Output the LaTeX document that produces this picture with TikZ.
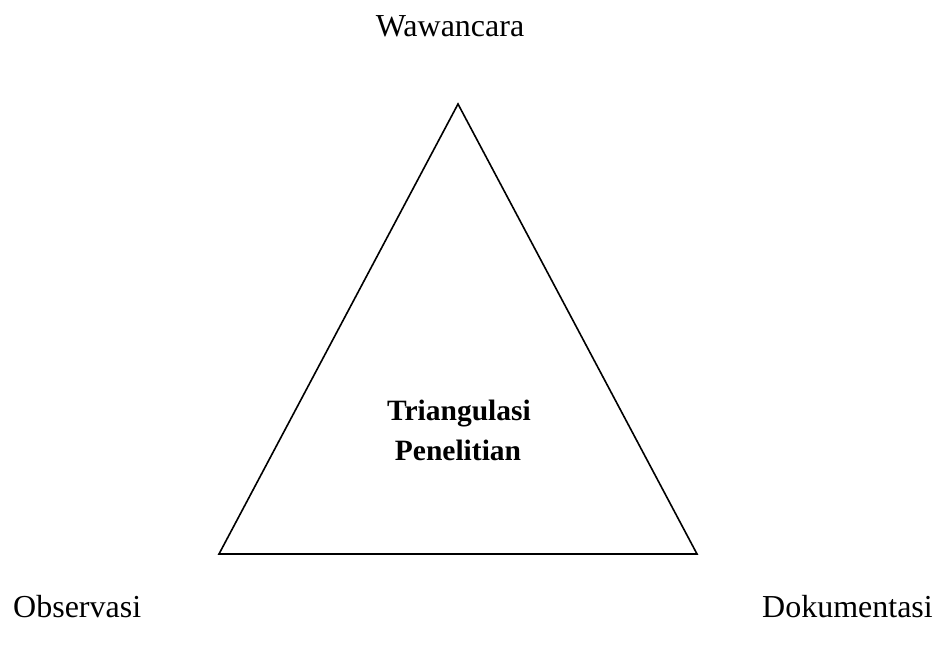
\documentclass[tikz,border=0pt]{standalone}
\usepackage{fontspec}
\setmainfont{Liberation Serif}
\begin{document}
\begin{tikzpicture}[x=1pt,y=-1pt,
  label/.style={inner sep=0pt,anchor=base,font=\fontsize{32}{38}\selectfont},
  center/.style={inner sep=0pt,anchor=base,font=\fontsize{29.5}{40}\selectfont\bfseries}]
  \useasboundingbox (0,0) rectangle (941,647);
  \coordinate (A) at (458,104);
  \coordinate (B) at (219,554);
  \coordinate (C) at (697,554);

  \draw[line width=1.6pt,line join=miter] (A) -- (B) -- (C) -- cycle;

  \node[label] (wawancara) at (450,37) {Wawancara};
  \node[label,anchor=base west] (observasi) at (13,617) {Observasi};
  \node[label,anchor=base east] (dokumentasi) at (933,617) {Dokumentasi};
  \node[center] (triangulasi) at (459,420) {Triangulasi};
  \node[center] (penelitian) at (458,460) {Penelitian};
\end{tikzpicture}
\end{document}
